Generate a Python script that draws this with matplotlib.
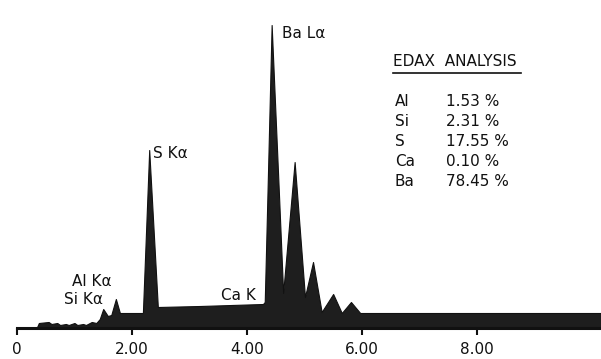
import matplotlib
matplotlib.use('Agg')
import matplotlib.pyplot as plt

# spectrum vertices (energy keV, counts in arbitrary units)
energia = [0.00, 0.35, 0.38, 0.55, 0.60, 0.70, 0.75, 0.85, 0.90, 1.00, 1.05,
           1.15, 1.20, 1.30, 1.38, 1.44, 1.50, 1.58, 1.64, 1.72, 1.79,
           2.19, 2.30, 2.45, 3.18, 4.28, 4.31, 4.36, 4.43,
           4.56, 4.63, 4.83, 5.01, 5.15, 5.30,
           5.50, 5.65, 5.81, 5.97, 10.16]
cuentas = [0, 1, 5, 6, 4, 5, 3, 4, 3, 5, 3,
           4, 3, 6, 5, 9, 19, 12, 13, 29, 15,
           15, 178, 21, 22, 24, 26, 140, 303,
           130, 35, 166, 31, 66, 16,
           34, 15, 26, 15, 15]

ticks = [0, 2, 4, 6, 8]
tickLabels = ['0', '2.00', '4.00', '6.00', '8.00']

# peak labels: text, energy, counts
picos = ['Ba Lα', 'S Kα', 'Al Kα', 'Si Kα', 'Ca K']
picosE = [4.61, 2.36, 0.96, 0.82, 3.55]
picosC = [295, 175, 46, 29, 33]

elementos = ['Al', 'Si', 'S', 'Ca', 'Ba']
porcentajes = [1.53, 2.31, 17.55, 0.10, 78.45]

fuente = ['DejaVu Sans']

fig = plt.figure(figsize=(6.01, 3.59), dpi=100, facecolor='white')
ax = fig.add_axes([17 / 601, 31 / 359, 1 - 17 / 601, 311 / 359])

ax.fill_between(energia, 0, cuentas, color='#1e1e1e', linewidth=0.8, edgecolor='#111111')

ax.set_xlim(0, 10.16)
ax.set_ylim(0, 311)

for s in ['top', 'right', 'left']:
    ax.spines[s].set_visible(False)
ax.spines['bottom'].set_linewidth(2.2)
ax.spines['bottom'].set_color('#111111')
ax.set_yticks([])
ax.set_xticks(ticks)
ax.set_xticklabels(tickLabels, family=fuente, fontsize=11, color='#111111')
ax.tick_params(axis='x', direction='out', length=5, width=1.5, pad=5, color='#111111')

for txt, e, c in zip(picos, picosE, picosC):
    ax.text(e, c, txt, family=fuente, fontsize=11, ha='left', va='center', color='#111111')

# EDAX table
ax.text(6.54, 266, 'EDAX  ANALYSIS', family=fuente, fontsize=11, ha='left', va='center', color='#111111')
ax.plot([6.54, 8.77], [255, 255], color='#111111', linewidth=1.2)
fila = 227
for el, p in zip(elementos, porcentajes):
    ax.text(6.57, fila, el, family=fuente, fontsize=11, ha='left', va='center', color='#111111')
    ax.text(7.47, fila, f'{p:.2f} %', family=fuente, fontsize=11, ha='left', va='center', color='#111111')
    fila -= 20

fig.savefig('out.png', dpi=100, facecolor='white')
